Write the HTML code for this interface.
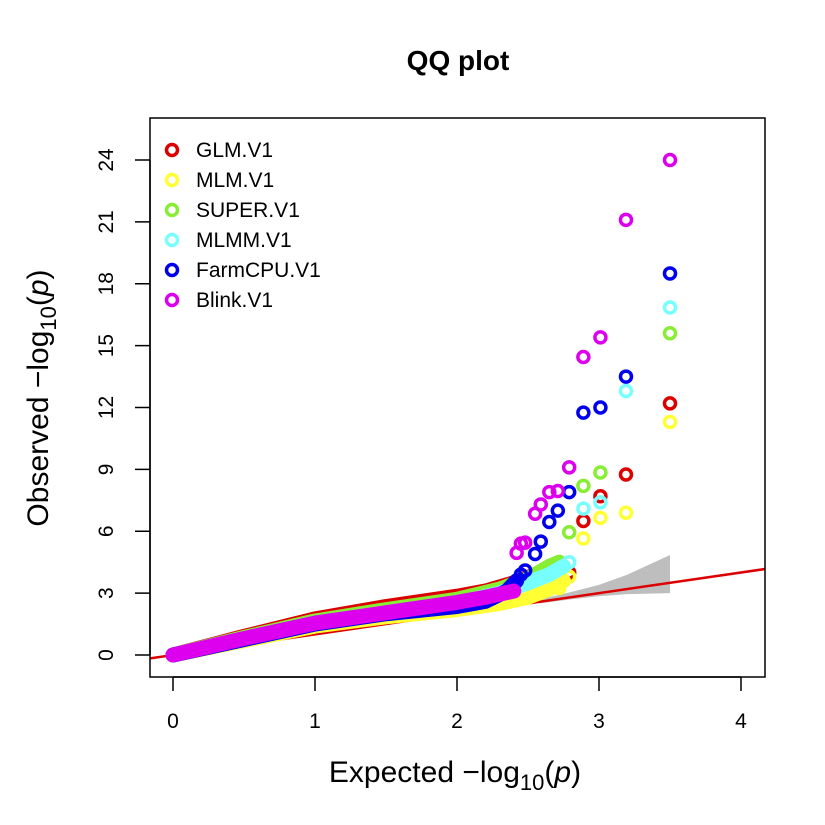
<!DOCTYPE html>
<html><head><meta charset="utf-8"><style>
body{margin:0;background:#fff}
svg{display:block;font-family:"Liberation Sans",sans-serif}
</style></head><body>
<svg id="c" width="825" height="825">
<text x="458" y="70" text-anchor="middle" font-size="28" font-weight="bold">QQ plot</text>
<defs><clipPath id="clip"><rect x="150" y="118" width="615" height="559"/></clipPath></defs>
<g id="plot" clip-path="url(#clip)"></g>
<rect x="150" y="118" width="615" height="559" fill="none" stroke="#000" stroke-width="1.5"/>
<g id="axes"></g>
<g id="legend"></g>
<text x="455" y="782" text-anchor="middle" font-size="30">Expected  −log<tspan font-size="22" dy="8">10</tspan><tspan dy="-8">(</tspan><tspan font-style="italic">p</tspan>)</text>
<text transform="translate(48,398) rotate(-90)" text-anchor="middle" font-size="30">Observed  −log<tspan font-size="22" dy="8">10</tspan><tspan dy="-8">(</tspan><tspan font-style="italic">p</tspan>)</text>
</svg>
<script>
const xTicks=[0,1,2,3,4];
const yTicks=[0,3,6,9,12,15,18,21,24];
const seriesNames=["GLM.V1","MLM.V1","SUPER.V1","MLMM.V1","FarmCPU.V1","Blink.V1"];
const seriesColors=["#dd0000","#ffff33","#88ee33","#77ffff","#0000ee","#dd00ee"];
const bandExp=[[0,0.5,1,1.5,2,2.2,2.4,2.55,2.65],[0,0.5,1,1.5,2,2.3,2.5,2.65,2.75],[0,0.5,1,1.5,2,2.3,2.5,2.65,2.72],[0,0.5,1,1.5,2,2.3,2.5,2.65,2.75],[0,0.5,1,1.5,2,2.2,2.35,2.42],[0,0.5,1,1.5,2,2.2,2.4]];
const bandObs=[[0,0.9,1.75,2.35,2.85,3.1,3.5,3.9,4.0],[0,0.7,1.4,1.85,2.2,2.5,2.8,3.2,3.6],[0,0.85,1.65,2.2,2.7,3.2,3.7,4.3,4.5],[0,0.8,1.55,2.05,2.5,3.0,3.5,3.9,4.3],[0,0.75,1.5,2.0,2.35,2.6,3.1,3.6],[0,0.8,1.55,2.05,2.55,2.8,3.1]];
const topExp=[[2.79,2.89,3.01,3.19,3.5],[2.72,2.79,2.89,3.01,3.19,3.5],[2.72,2.79,2.89,3.01,3.5],[2.79,2.89,3.01,3.19,3.5],[2.45,2.48,2.55,2.59,2.65,2.71,2.79,2.89,3.01,3.19,3.5],[2.42,2.45,2.48,2.55,2.59,2.65,2.71,2.79,2.89,3.01,3.19,3.5]];
const topObs=[[4.0,6.5,7.7,8.75,12.2],[3.25,3.8,5.65,6.65,6.9,11.3],[4.5,5.95,8.2,8.85,15.6],[4.5,7.1,7.4,12.8,16.85],[3.9,4.1,4.9,5.5,6.45,7.0,7.9,11.75,12.0,13.5,18.5],[4.95,5.4,5.45,6.85,7.3,7.9,7.95,9.1,14.45,15.4,21.1,24.0]];
const ciExp=[2.58,2.8,3.0,3.2,3.5];
const ciUpper=[2.7,3.05,3.4,3.9,4.85];
const ciLower=[2.5,2.7,2.85,2.95,3.0];
const NS="http://www.w3.org/2000/svg";
const X=v=>173+v*142, Y=v=>655-v*20.625;
function mk(t,a,p){const e=document.createElementNS(NS,t);for(const k in a)e.setAttribute(k,a[k]);p.appendChild(e);return e;}
const plot=document.getElementById('plot'),axes=document.getElementById('axes'),leg=document.getElementById('legend');
let pts=ciExp.map((e,i)=>X(e)+','+Y(ciUpper[i])).concat(ciExp.map((e,i)=>X(e)+','+Y(ciLower[i])).reverse());
const ci=mk('polygon',{points:pts.join(' '),fill:'#bebebe'},plot);


const rl=mk('line',{x1:X(-1),y1:Y(-1),x2:X(5),y2:Y(5),stroke:'#dd0000','stroke-width':2.5},plot);


seriesNames.forEach((n,s)=>{
 const g=mk('g',{},plot);
 
 
 const d=bandExp[s].map((e,i)=>(i?'L':'M')+X(e)+' '+Y(bandObs[s][i])).join(' ');
 mk('path',{d:d,fill:'none',stroke:seriesColors[s],'stroke-width':15,'stroke-linecap':'round','stroke-linejoin':'round'},g);
 topExp[s].forEach((e,i)=>{
  const c=mk('circle',{cx:X(e),cy:Y(topObs[s][i]),r:5.5,fill:'none',stroke:seriesColors[s],'stroke-width':3.5},g);
  
  
 });
 const ly=150+s*30;
 const lc=mk('circle',{cx:172,cy:ly,r:5.5,fill:'none',stroke:seriesColors[s],'stroke-width':3.5},leg);
 
 
 const lt=mk('text',{x:196,y:ly+7,'font-size':21},leg);
 lt.textContent=n;
 
 
});
xTicks.forEach(t=>{
 mk('line',{x1:X(t),y1:677,x2:X(t),y2:691,stroke:'#000','stroke-width':1.5},axes);
 const tx=mk('text',{x:X(t),y:728,'font-size':21,'text-anchor':'middle'},axes);
 tx.textContent=t;
 
 
});
mk('line',{x1:X(0),y1:677,x2:X(4),y2:677,stroke:'#000','stroke-width':1.5},axes);
yTicks.forEach(t=>{
 mk('line',{x1:135,y1:Y(t),x2:150,y2:Y(t),stroke:'#000','stroke-width':1.5},axes);
 const ty=mk('text',{transform:`translate(113,${Y(t)}) rotate(-90)`,'font-size':21,'text-anchor':'middle'},axes);
 ty.textContent=t;
 
 
});
mk('line',{x1:150,y1:Y(0),x2:150,y2:Y(24),stroke:'#000','stroke-width':1.5},axes);
</script>
</body></html>
